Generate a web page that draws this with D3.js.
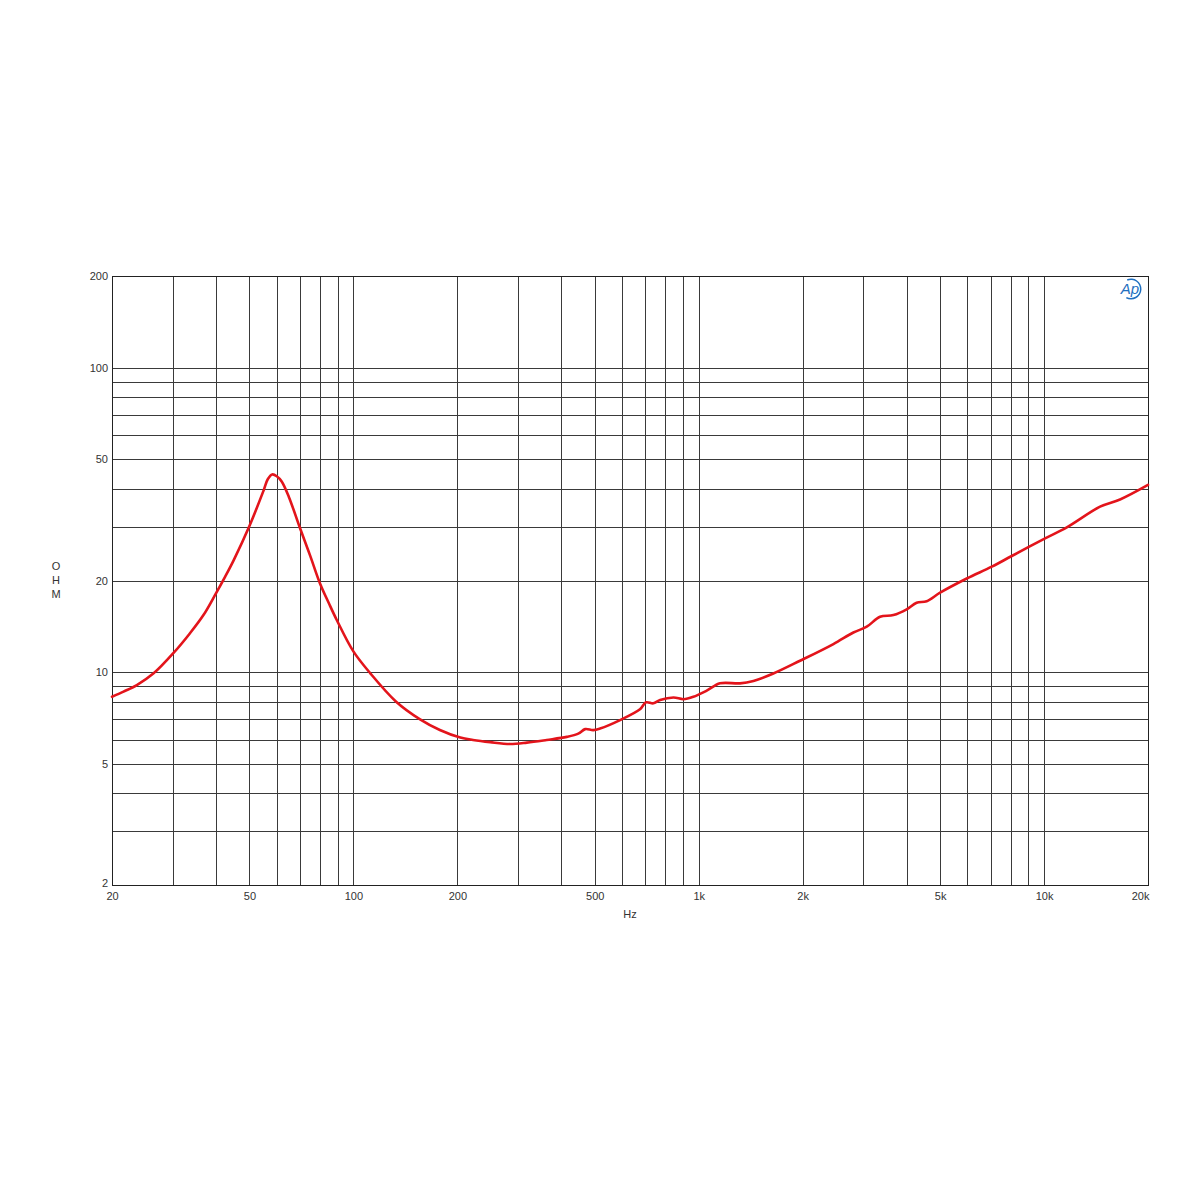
<!DOCTYPE html>
<html>
<head>
<meta charset="utf-8">
<script src="https://cdn.jsdelivr.net/npm/d3@7"></script>
<style>
  html, body { margin: 0; padding: 0; background: #fff; }
  svg { display: block; }
</style>
</head>
<body>
<svg id="chart" width="1200" height="1200"></svg>
<script>
// ---- data ----
const freqHz = [20, 21.6, 23.6, 26.4, 30.1, 33.6, 36.8, 40, 42.5, 45, 50, 55, 56.5, 58.2, 60, 62, 65, 70,
  75, 80, 85, 89.5, 100, 112, 133, 156, 178, 204, 222, 249, 284, 318, 363, 415, 448, 469, 495, 518,
  592, 676, 704, 739, 773, 845, 903, 965, 1055, 1153, 1317, 1440, 1645, 1965, 2455, 2805, 3066, 3350,
  3662, 4002, 4276, 4572, 5000, 5973, 7058, 8063, 10070, 11640, 14530, 16600, 20000];
const impedanceOhm = [8.3, 8.63, 9.07, 9.91, 11.54, 13.4, 15.4, 18.15, 20.57, 23.3, 30.2, 39.6, 43.0, 44.6,
  44.0, 42.3, 37.7, 29.8, 24.1, 19.6, 16.8, 14.84, 11.7, 9.91, 8.0, 7.0, 6.46, 6.1, 5.99, 5.89, 5.81,
  5.87, 5.99, 6.13, 6.28, 6.5, 6.45, 6.53, 6.96, 7.55, 7.96, 7.9, 8.1, 8.26, 8.15, 8.3, 8.7, 9.19,
  9.19, 9.36, 9.9, 10.9, 12.37, 13.5, 14.1, 15.2, 15.4, 16.08, 16.9, 17.1, 18.24, 20.3, 22.2, 24.07,
  27.5, 29.9, 34.95, 36.9, 41.2];
const xTickValues = [20, 50, 100, 200, 500, 1000, 2000, 5000, 10000, 20000];
const xTickLabels = ["20", "50", "100", "200", "500", "1k", "2k", "5k", "10k", "20k"];
const yTickValues = [2, 5, 10, 20, 50, 100, 200];
const yTickLabels = ["2", "5", "10", "20", "50", "100", "200"];
const xGridValues = [30, 40, 50, 60, 70, 80, 90, 100, 200, 300, 400, 500, 600, 700, 800, 900,
  1000, 2000, 3000, 4000, 5000, 6000, 7000, 8000, 9000, 10000];
const yGridValues = [3, 4, 5, 6, 7, 8, 9, 10, 20, 30, 40, 50, 60, 70, 80, 90, 100];
const xAxisTitle = "Hz";
const yAxisTitle = ["O", "H", "M"];

// ---- layout ----
const plotL = 112, plotR = 1148, plotT = 276, plotB = 885;
const svg = d3.select("#chart");
const x = d3.scaleLog().domain([20, 20000]).range([plotL, plotR]);
const y = d3.scaleLog().domain([2, 200]).range([plotB, plotT]);
const font = "'Liberation Sans', Arial, sans-serif";
const textColor = "#333";

const grid = svg.append("g").attr("shape-rendering", "crispEdges");
grid.selectAll("line.v").data(xGridValues).join("line")
  .attr("x1", d => Math.round(x(d)) + 0.5).attr("x2", d => Math.round(x(d)) + 0.5)
  .attr("y1", plotT).attr("y2", plotB)
  .attr("stroke", "#3a3a3a").attr("stroke-width", 1);
grid.selectAll("line.h").data(yGridValues).join("line")
  .attr("y1", d => Math.round(y(d)) + 0.5).attr("y2", d => Math.round(y(d)) + 0.5)
  .attr("x1", plotL).attr("x2", plotR)
  .attr("stroke", "#3a3a3a").attr("stroke-width", 1);
grid.append("rect")
  .attr("x", plotL + 0.5).attr("y", plotT + 0.5)
  .attr("width", plotR - plotL).attr("height", plotB - plotT)
  .attr("fill", "none").attr("stroke", "#222").attr("stroke-width", 1);

// ---- axes labels ----
const xAxis = d3.axisBottom(x).tickValues(xTickValues)
  .tickFormat((d, i) => xTickLabels[i]).tickSize(0).tickPadding(7);
const gx = svg.append("g").attr("transform", `translate(0,${plotB})`).call(xAxis);
gx.select(".domain").remove();
gx.selectAll("text").attr("font-family", font).attr("font-size", 11).attr("fill", textColor)
  .attr("text-anchor", (d, i) => i === xTickValues.length - 1 ? "end" : "middle")
  .attr("dx", (d, i) => i === xTickValues.length - 1 ? 1 : 0);

const yAxis = d3.axisLeft(y).tickValues(yTickValues)
  .tickFormat((d, i) => yTickLabels[i]).tickSize(0).tickPadding(4);
const gy = svg.append("g").attr("transform", `translate(${plotL},0)`).call(yAxis);
gy.select(".domain").remove();
gy.selectAll("text").attr("font-family", font).attr("font-size", 11).attr("fill", textColor)
  .attr("dy", (d) => d === 2 ? "0.1em" : "0.32em");

svg.append("text").attr("x", 630).attr("y", 918).attr("text-anchor", "middle")
  .attr("font-family", font).attr("font-size", 11).attr("fill", textColor).text(xAxisTitle);
svg.append("g").selectAll("text").data(yAxisTitle).join("text")
  .attr("x", 56).attr("y", (d, i) => 570 + i * 14).attr("text-anchor", "middle")
  .attr("font-family", font).attr("font-size", 11).attr("fill", textColor).text(d => d);

// ---- curve ----
const line = d3.line().x((d, i) => x(freqHz[i])).y(d => y(d)).curve(d3.curveCatmullRom.alpha(0.5));
svg.append("path").datum(impedanceOhm)
  .attr("d", line).attr("fill", "none")
  .attr("stroke", "#e3141b").attr("stroke-width", 2.6)
  .attr("stroke-linejoin", "round").attr("stroke-linecap", "round");

// ---- AP logo ----
const logo = svg.append("g").attr("transform", "translate(1131,289)");
logo.append("text").attr("x", -1).attr("y", 5).attr("text-anchor", "middle")
  .attr("font-family", font).attr("font-style", "italic").attr("font-size", 15)
  .attr("fill", "#1f6fc0").text("Ap");
logo.append("path")
  .attr("d", d3.arc()({innerRadius: 9, outerRadius: 10.5, startAngle: -0.4, endAngle: Math.PI + 0.5}))
  .attr("fill", "#1f6fc0");
</script>
</body>
</html>
